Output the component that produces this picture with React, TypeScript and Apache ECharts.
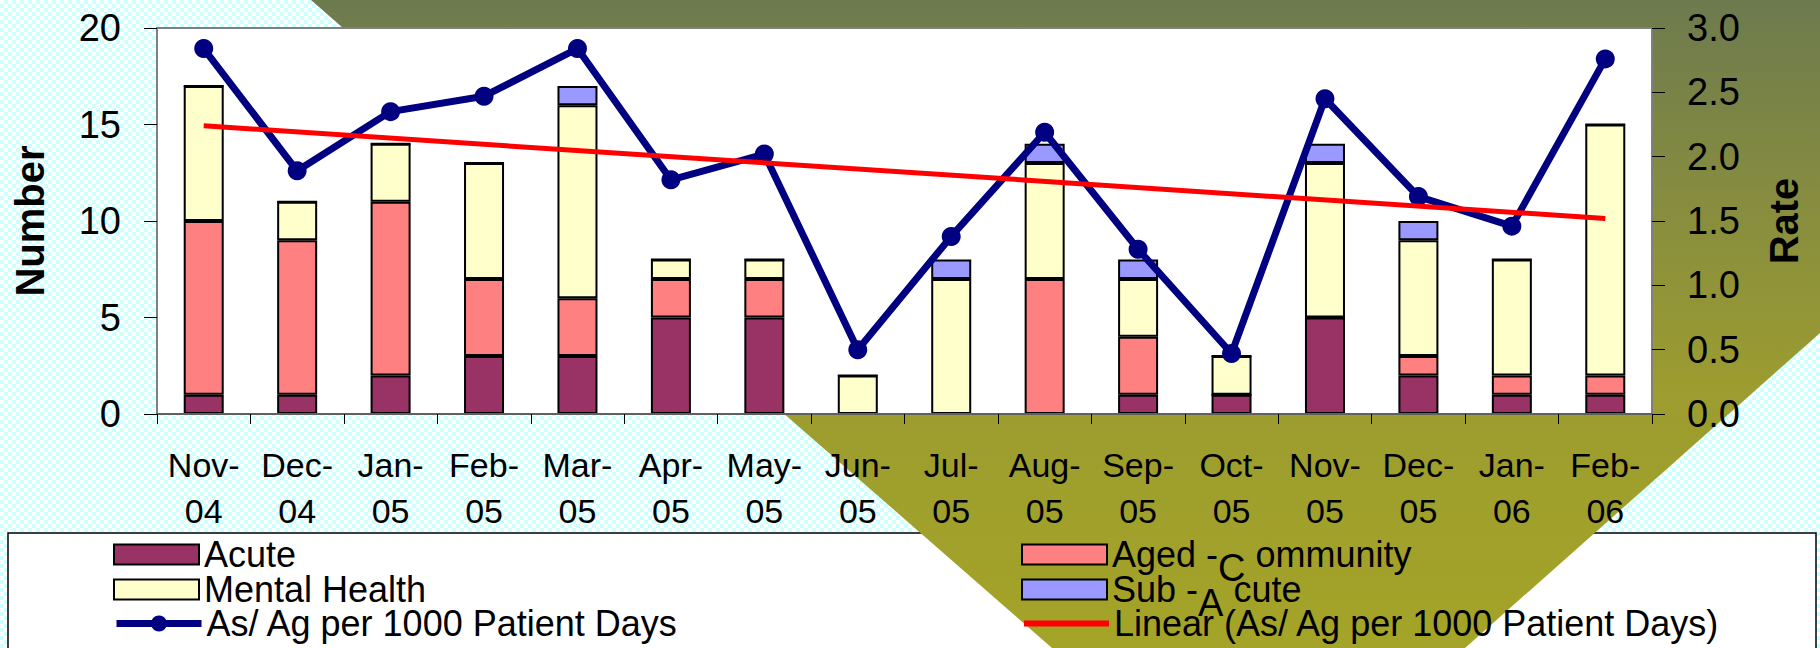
import React, { useEffect, useRef } from "react";
import * as echarts from "echarts";

const months = [
  "Nov-\n04", "Dec-\n04", "Jan-\n05", "Feb-\n05", "Mar-\n05", "Apr-\n05", "May-\n05", "Jun-\n05",
  "Jul-\n05", "Aug-\n05", "Sep-\n05", "Oct-\n05", "Nov-\n05", "Dec-\n05", "Jan-\n06", "Feb-\n06",
];
const acute = [1, 1, 2, 3, 3, 5, 5, 0, 0, 0, 1, 1, 5, 2, 1, 1];
const agedCommunity = [9, 8, 9, 4, 3, 2, 2, 0, 0, 7, 3, 0, 0, 1, 1, 1];
const mentalHealth = [7, 2, 3, 6, 10, 1, 1, 2, 7, 6, 3, 2, 8, 6, 6, 13];
const subAcute = [0, 0, 0, 0, 1, 0, 0, 0, 1, 1, 1, 0, 1, 1, 0, 0];
const ratePer1000 = [2.84, 1.89, 2.35, 2.47, 2.84, 1.82, 2.02, 0.5, 1.38, 2.19, 1.28, 0.47, 2.45, 1.69, 1.46, 2.76];
const linearTrend = [2.24, null, null, null, null, null, null, null, null, null, null, null, null, null, null, 1.52];
const numberAxis = { min: 0, max: 20, interval: 5 };
const rateAxis = { min: 0, max: 3, interval: 0.5 };

const FONT = "'Liberation Sans', Arial, sans-serif";

const NAMES = {
  acute: "Acute",
  aged: "Aged -Community",
  mh: "Mental Health",
  sub: "Sub -Acute",
  rate: "As/ Ag per 1000 Patient Days",
  trend: "Linear (As/ Ag per 1000 Patient Days)",
};

const LEGEND_LABELS: Record<string, string> = {
  [NAMES.aged]: "Aged -{c|C} ommunity",
  [NAMES.sub]: "Sub -{c|A} cute",
};

function makeLegend(name: string, left: number, top: number, extra: any = {}) {
  return {
    data: [name],
    left,
    top,
    orient: "vertical",
    itemWidth: 85,
    itemHeight: 20,
    padding: 0,
    textStyle: {
      fontFamily: FONT,
      fontSize: 36,
      lineHeight: 35,
      color: "#000",
      rich: {
        c: { fontFamily: FONT, fontSize: 38, color: "#000", padding: [26, 0, 0, 0] },
      },
    },
    formatter: (n: string) => LEGEND_LABELS[n] || n,
    ...extra,
  };
}

export default function App() {
  const ref = useRef<HTMLDivElement>(null);

  useEffect(() => {
    document.body.style.margin = "0";
    if (!ref.current) return;
    const chart = echarts.init(ref.current, undefined, { renderer: "svg" });

    const barBase = {
      type: "bar",
      stack: "total",
      barWidth: 40,
      yAxisIndex: 0,
    };

    const option: any = {
      animation: false,
      backgroundColor: "transparent",
      textStyle: { fontFamily: FONT },
      graphic: [
        {
          type: "rect",
          z: -2,
          shape: { x: 8, y: 533, width: 1808, height: 140 },
          style: { fill: "#ffffff", stroke: "#000000", lineWidth: 1.5 },
        },
        {
          type: "polygon",
          z: -1,
          shape: {
            points: [
              [311, 0],
              [1820, 0],
              [1820, 333],
              [1465, 648],
              [1052, 648],
            ],
          },
          style: {
            fill: new echarts.graphic.LinearGradient(0, 0, 0, 1, [
              { offset: 0, color: "#6d7a4e" },
              { offset: 0.3, color: "#868c40" },
              { offset: 0.6, color: "#9c9c30" },
              { offset: 1, color: "#a4a428" },
            ]),
          },
        },
      ],
      grid: {
        left: 157,
        right: 168,
        top: 28,
        bottom: 234,
        show: true,
        backgroundColor: "#ffffff",
        borderColor: "#808080",
        borderWidth: 2,
      },
      legend: [
        makeLegend(NAMES.acute, 113, 536.5, { icon: "rect" }),
        makeLegend(NAMES.mh, 113, 571.5, { icon: "rect" }),
        makeLegend(NAMES.rate, 113, 605.5, {
          lineStyle: { width: 7 },
        }),
        makeLegend(NAMES.aged, 1021, 536.5, { icon: "rect" }),
        makeLegend(NAMES.sub, 1021, 571.5, { icon: "rect" }),
        makeLegend(NAMES.trend, 1021, 605.5, {
          lineStyle: { width: 6 },
          itemStyle: { color: "rgba(0,0,0,0)", borderColor: "rgba(0,0,0,0)", borderWidth: 0 },
        }),
      ],
      xAxis: {
        type: "category",
        data: months,
        z: 5,
        axisLine: { lineStyle: { color: "#606060", width: 2 } },
        axisTick: { show: true, length: 10, lineStyle: { color: "#000", width: 1 } },
        axisLabel: {
          fontFamily: FONT,
          fontSize: 34,
          lineHeight: 46,
          color: "#000",
          margin: 28,
          interval: 0,
        },
        splitLine: { show: false },
      },
      yAxis: [
        {
          type: "value",
          ...numberAxis,
          z: 5,
          name: "Number",
          nameLocation: "middle",
          nameRotate: 90,
          nameGap: 107,
          nameTextStyle: { fontFamily: FONT, fontSize: 40, fontWeight: "bold", color: "#000" },
          axisLine: { show: true, lineStyle: { color: "#808080", width: 2 } },
          axisTick: { show: true, length: 13, lineStyle: { color: "#000", width: 1 } },
          axisLabel: { fontFamily: FONT, fontSize: 38, color: "#000", margin: 36 },
          splitLine: { show: false },
        },
        {
          type: "value",
          ...rateAxis,
          position: "right",
          z: 5,
          name: "Rate",
          nameLocation: "middle",
          nameRotate: 90,
          nameGap: 112,
          nameTextStyle: { fontFamily: FONT, fontSize: 40, fontWeight: "bold", color: "#000" },
          axisLine: { show: true, lineStyle: { color: "#808080", width: 2 } },
          axisTick: { show: true, length: 13, lineStyle: { color: "#000", width: 1 } },
          axisLabel: {
            fontFamily: FONT,
            fontSize: 38,
            color: "#000",
            margin: 35,
            formatter: (v: number) => v.toFixed(1),
          },
          splitLine: { show: false },
        },
      ],
      series: [
        {
          ...barBase,
          name: NAMES.acute,
          data: acute,
          itemStyle: { color: "#993366", borderColor: "#000", borderWidth: 2 },
        },
        {
          ...barBase,
          name: NAMES.aged,
          data: agedCommunity,
          itemStyle: { color: "#ff8080", borderColor: "#000", borderWidth: 2 },
        },
        {
          ...barBase,
          name: NAMES.mh,
          data: mentalHealth,
          itemStyle: { color: "#ffffcc", borderColor: "#000", borderWidth: 2 },
        },
        {
          ...barBase,
          name: NAMES.sub,
          data: subAcute,
          itemStyle: { color: "#9999ff", borderColor: "#000", borderWidth: 2 },
        },
        {
          type: "line",
          name: NAMES.rate,
          yAxisIndex: 1,
          data: ratePer1000,
          symbol: "circle",
          symbolSize: 19,
          lineStyle: { color: "#000080", width: 7 },
          itemStyle: { color: "#000080" },
          z: 4,
        },
        {
          type: "line",
          name: NAMES.trend,
          yAxisIndex: 1,
          data: linearTrend,
          connectNulls: true,
          symbol: "none",
          showSymbol: false,
          lineStyle: { color: "#ff0000", width: 5 },
          itemStyle: { color: "#ff0000" },
          z: 5,
        },
      ],
    };

    chart.setOption(option);
    return () => chart.dispose();
  }, []);

  return (
    <div
      ref={ref}
      style={{
        width: 1820,
        height: 648,
        background:
          "repeating-conic-gradient(#ccffff 0% 25%, #ffffff 0% 50%) 0 0 / 8px 8px",
      }}
    />
  );
}
